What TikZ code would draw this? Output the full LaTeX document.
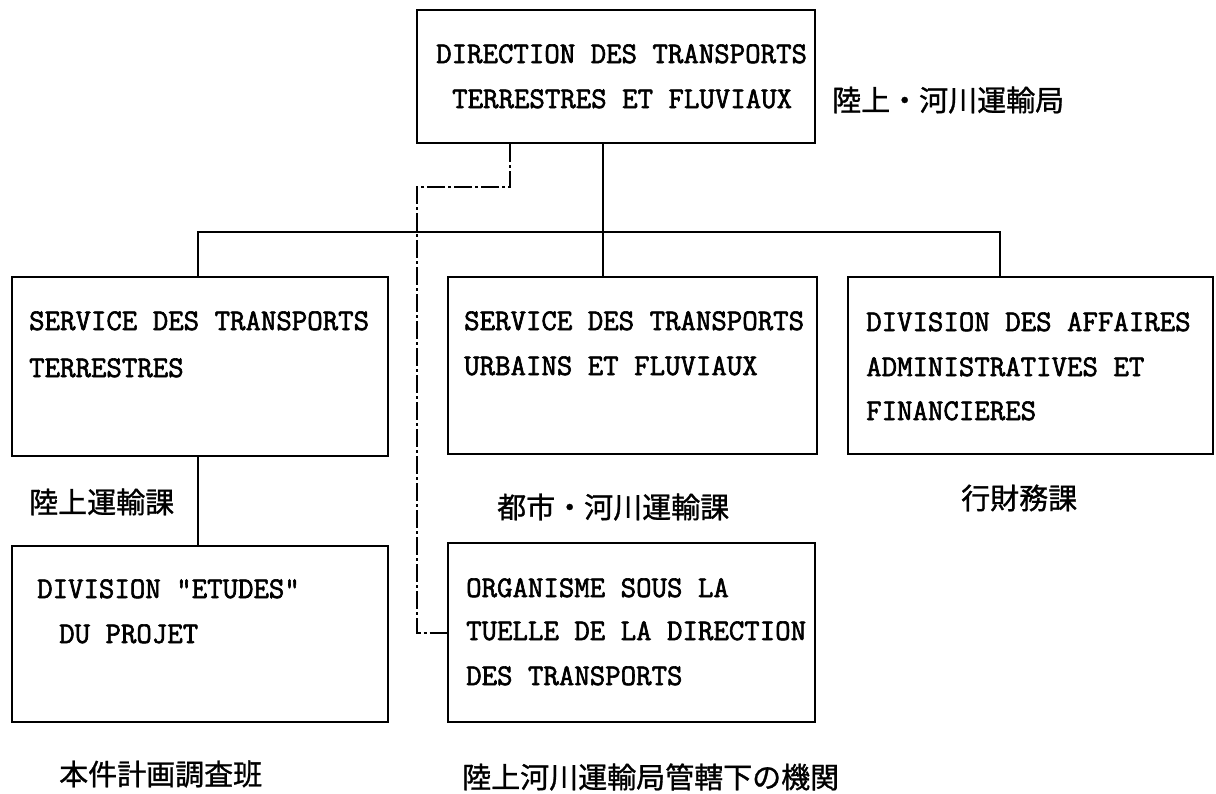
\documentclass[tikz,border=0pt]{standalone}
\usepackage{fontspec}
\newfontfamily\boxfont{Latin Modern Mono}[FakeBold=2]
\newfontfamily\cjk{Noto Sans CJK JP}[FakeBold=1]
\begin{document}
\begin{tikzpicture}[x=1pt,y=-1pt,
  box/.style={draw,line width=2pt,rectangle,inner sep=0pt},
  txt/.style={anchor=base west,inner sep=0pt,font=\boxfont\fontsize{30}{34}\selectfont},
  jp/.style={anchor=base west,inner sep=0pt,font=\cjk\fontsize{29}{34}\selectfont},
  conn/.style={line width=2pt},
  dd/.style={line width=2pt,dash pattern=on 18pt off 3pt on 3pt off 3pt}]
\useasboundingbox[fill=white] (0,0) rectangle (1216,793);
% boxes
\node[box,minimum width=398pt,minimum height=133pt] (top) at (616,76.5) {};
\node[box,minimum width=376pt,minimum height=179pt] (b1) at (200,366.5) {};
\node[box,minimum width=369pt,minimum height=177pt] (b2) at (632.5,365.5) {};
\node[box,minimum width=365pt,minimum height=177pt] (b3) at (1030.5,365.5) {};
\node[box,minimum width=376pt,minimum height=176pt] (b4) at (200,634) {};
\node[box,minimum width=367pt,minimum height=179pt] (b5) at (631.5,632.5) {};
% box texts
\node[txt] (t1) at (436,63) {DIRECTION DES TRANSPORTS};
\node[txt] (t2) at (452,108) {TERRESTRES ET FLUVIAUX};
\node[txt] (s1) at (29,330) {SERVICE DES TRANSPORTS};
\node[txt] (s2) at (29,377) {TERRESTRES};
\node[txt] (u1) at (464,330) {SERVICE DES TRANSPORTS};
\node[txt] (u2) at (464,375) {URBAINS ET FLUVIAUX};
\node[txt] (d1) at (866,331) {DIVISION DES AFFAIRES};
\node[txt] (d2) at (866,376) {ADMINISTRATIVES ET};
\node[txt] (d3) at (866,420) {FINANCIERES};
\node[txt] (e1) at (37,598) {DIVISION "ETUDES"};
\node[txt] (e2) at (59,643) {DU PROJET};
\node[txt] (o1) at (466,597) {ORGANISME SOUS LA};
\node[txt] (o2) at (466,640) {TUELLE DE LA DIRECTION};
\node[txt] (o3) at (466,685) {DES TRANSPORTS};
% japanese labels
\node[jp] (j0) at (832,111) {陸上・河川運輸局};
\node[jp] (j1) at (29,513) {陸上運輸課};
\node[jp] (j2) at (497,518) {都市・河川運輸課};
\node[jp] (j3) at (961,509) {行財務課};
\node[jp] (j4) at (59,785) {本件計画調査班};
\node[jp] (j5) at (462,788) {陸上河川運輸局管轄下の機関};
% connectors
\draw[conn] (603,0 |- top.south) -- (603,0 |- b2.north);
\draw[conn] (198,0 |- b1.north) -- (198,232) -- (1000,232) -- (1000,0 |- b3.north);
\draw[conn] (198,0 |- b1.south) -- (198,0 |- b4.north);
\draw[dd] (510,0 |- top.south) -- (510,187) -- (417,187) |- (b5.west);
\end{tikzpicture}
\end{document}
